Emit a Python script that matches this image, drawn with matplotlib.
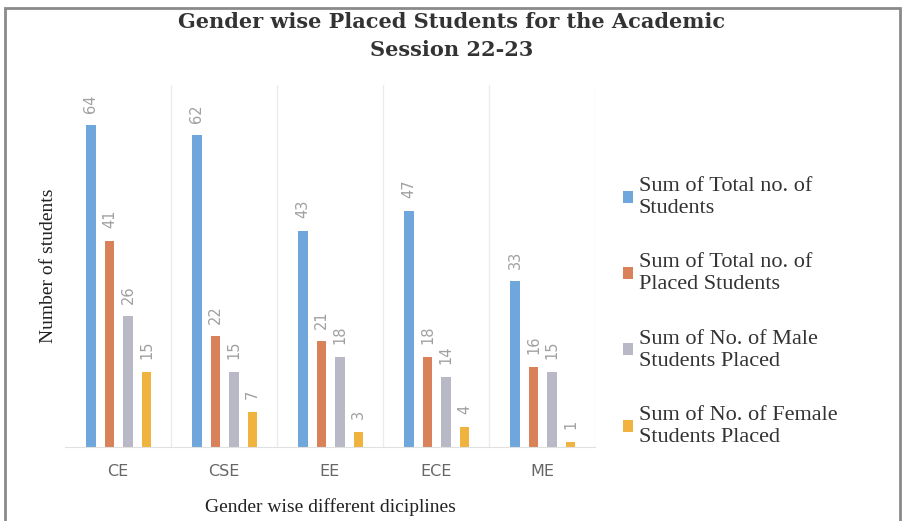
import matplotlib
matplotlib.use("Agg")
import matplotlib.pyplot as plt
import numpy as np
from matplotlib.patches import Patch, Rectangle

disciplines = ["CE", "CSE", "EE", "ECE", "ME"]
total_students = [64, 62, 43, 47, 33]
total_placed = [41, 22, 21, 18, 16]
male_placed = [26, 15, 18, 14, 15]
female_placed = [15, 7, 3, 4, 1]

series_names = [
    "Sum of Total no. of\nStudents",
    "Sum of Total no. of\nPlaced Students",
    "Sum of No. of Male\nStudents Placed",
    "Sum of No. of Female\nStudents Placed",
]
colors = ["#6fa6dc", "#d98259", "#b9b8c6", "#efb33e"]

serif = ["Liberation Serif", "DejaVu Serif"]

fig = plt.figure(figsize=(9.04, 5.21), dpi=100)
fig.patch.set_facecolor("white")
fig.add_artist(Rectangle((5 / 904, -0.01), 895 / 904, 1 - 8 / 521 + 0.01,
                         transform=fig.transFigure, fill=False,
                         edgecolor="#8a8a8a", linewidth=2))

ax = fig.add_axes([65 / 904, 1 - 447 / 521, 530 / 904, 362 / 521])

x = np.arange(len(disciplines))
width = 0.09
offsets = [-0.255, -0.08, 0.095, 0.27]
all_series = [total_students, total_placed, male_placed, female_placed]

for vals, off, col in zip(all_series, offsets, colors):
    bars = ax.bar(x + off, vals, width=width, color=col)
    for b, v in zip(bars, vals):
        ax.annotate(str(v), (b.get_x() + b.get_width() / 2, v),
                    xytext=(0, 9), textcoords="offset points",
                    rotation=90, ha="center", va="bottom",
                    fontsize=10.5, color="#a0a0a0")

for xv in np.arange(0.5, len(disciplines), 1.0):
    ax.axvline(xv, color="#ececec", linewidth=1, zorder=0)

ax.set_xlim(-0.5, len(disciplines) - 0.5)
ax.set_ylim(0, 72)
ax.set_yticks([])
ax.set_xticks(x)
ax.set_xticklabels(disciplines, fontsize=11.5, color="#666666")
ax.tick_params(axis="x", length=0, pad=12)
for s in ["top", "right", "left"]:
    ax.spines[s].set_visible(False)
ax.spines["bottom"].set_color("#e0e0e0")

ax.set_ylabel("Number of students", fontsize=14, family=serif, color="#222222", labelpad=6)
ax.set_xlabel("Gender wise different diciplines", fontsize=14, family=serif,
              color="#222222", labelpad=14)

title_font = ["DejaVu Serif", "Liberation Serif"]
fig.text(0.5, 1 - 22 / 521, "Gender wise Placed Students for the Academic",
         ha="center", va="center", fontsize=15, fontweight="bold",
         family=title_font, color="#333333")
fig.text(0.5, 1 - 50 / 521, "Session 22-23",
         ha="center", va="center", fontsize=15, fontweight="bold",
         family=title_font, color="#333333")

handles = [Patch(facecolor=c) for c in colors]
fig.legend(handles, series_names, loc="center left",
           bbox_to_anchor=(603 / 904, 1 - 312 / 521), frameon=False,
           prop={"family": serif, "size": 16}, handlelength=0.45,
           handleheight=0.45, handletextpad=0.25, labelspacing=1.6,
           labelcolor="#333333")

fig.savefig("out.png", dpi=100)
